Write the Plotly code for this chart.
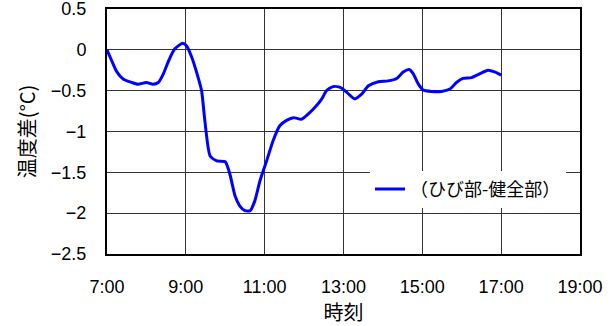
import plotly.graph_objects as go

# Temperature difference (cracked part minus sound part) over the day
times = ["7:00", "7:07", "7:15", "7:25", "7:38", "7:47", "8:00", "8:10", "8:18",
         "8:26", "8:34", "8:43", "8:55", "9:01", "9:09", "9:17", "9:24", "9:29",
         "9:37", "9:47", "10:00", "10:07", "10:15", "10:22", "10:30", "10:38",
         "10:45", "10:53", "11:03", "11:13", "11:23", "11:34", "11:44", "11:56",
         "12:07", "12:17", "12:27", "12:34", "12:44", "12:55", "13:05", "13:17",
         "13:28", "13:38", "13:53", "14:08", "14:21", "14:31", "14:40", "14:46",
         "14:54", "15:01", "15:14", "15:29", "15:42", "15:52", "16:02", "16:15",
         "16:28", "16:40", "16:50", "17:00"]
diff = [0.0, -0.13, -0.27, -0.36, -0.40, -0.42, -0.40, -0.42, -0.40,
        -0.29, -0.13, 0.01, 0.08, 0.05, -0.09, -0.29, -0.50, -0.87,
        -1.30, -1.36, -1.37, -1.52, -1.79, -1.91, -1.97, -1.97,
        -1.85, -1.60, -1.36, -1.11, -0.93, -0.86, -0.83, -0.85,
        -0.78, -0.70, -0.60, -0.50, -0.45, -0.46, -0.52, -0.60,
        -0.54, -0.44, -0.39, -0.38, -0.35, -0.27, -0.24, -0.29,
        -0.42, -0.49, -0.51, -0.51, -0.48, -0.40, -0.35, -0.34,
        -0.29, -0.25, -0.27, -0.31]

x_ticks = [7, 9, 11, 13, 15, 17, 19]
x_tick_labels = ["7:00", "9:00", "11:00", "13:00", "15:00", "17:00", "19:00"]
y_ticks = [0.5, 0, -0.5, -1, -1.5, -2, -2.5]
y_tick_labels = ["0.5", "0", "−0.5", "−1", "−1.5", "−2", "−2.5"]


def to_hours(t):
    h, m = t.split(":")
    return int(h) + int(m) / 60.0


hours = [to_hours(t) for t in times]

JP = "Noto Sans CJK JP"
NUM = "Liberation Sans"

fig = go.Figure()
fig.add_trace(go.Scatter(
    x=hours, y=diff, mode="lines", name="（ひび部-健全部）",
    line=dict(color="#0000ff", width=3, shape="spline", smoothing=0.6),
))

axis_common = dict(
    showline=True, linecolor="black", linewidth=2, mirror=True,
    showgrid=True, gridcolor="#333333", gridwidth=1, zeroline=False,
    ticks="", ticklabeloverflow="allow", automargin=False,
    tickfont=dict(family=NUM, size=18, color="black"),
)

fig.update_layout(
    width=614, height=326,
    margin=dict(l=107, r=34, t=9, b=72),
    paper_bgcolor="white", plot_bgcolor="white",
    font=dict(family=JP, color="black"),
    xaxis=dict(range=[7, 19.001], tickvals=x_ticks, ticktext=x_tick_labels,
               ticklabelstandoff=15,
               title=dict(text="時刻", font=dict(family=JP, size=20), standoff=6),
               **axis_common),
    yaxis=dict(range=[-2.501, 0.501], tickvals=y_ticks, ticktext=y_tick_labels,
               ticklabelstandoff=15,
               title=dict(text="温度差(°C)", font=dict(family=JP, size=20), standoff=10),
               **axis_common),
    legend=dict(x=0.556, y=0.34, xanchor="left", yanchor="top",
                bgcolor="white", borderwidth=0,
                font=dict(family=JP, size=18)),
    showlegend=True,
)

fig.write_html("out.html")
